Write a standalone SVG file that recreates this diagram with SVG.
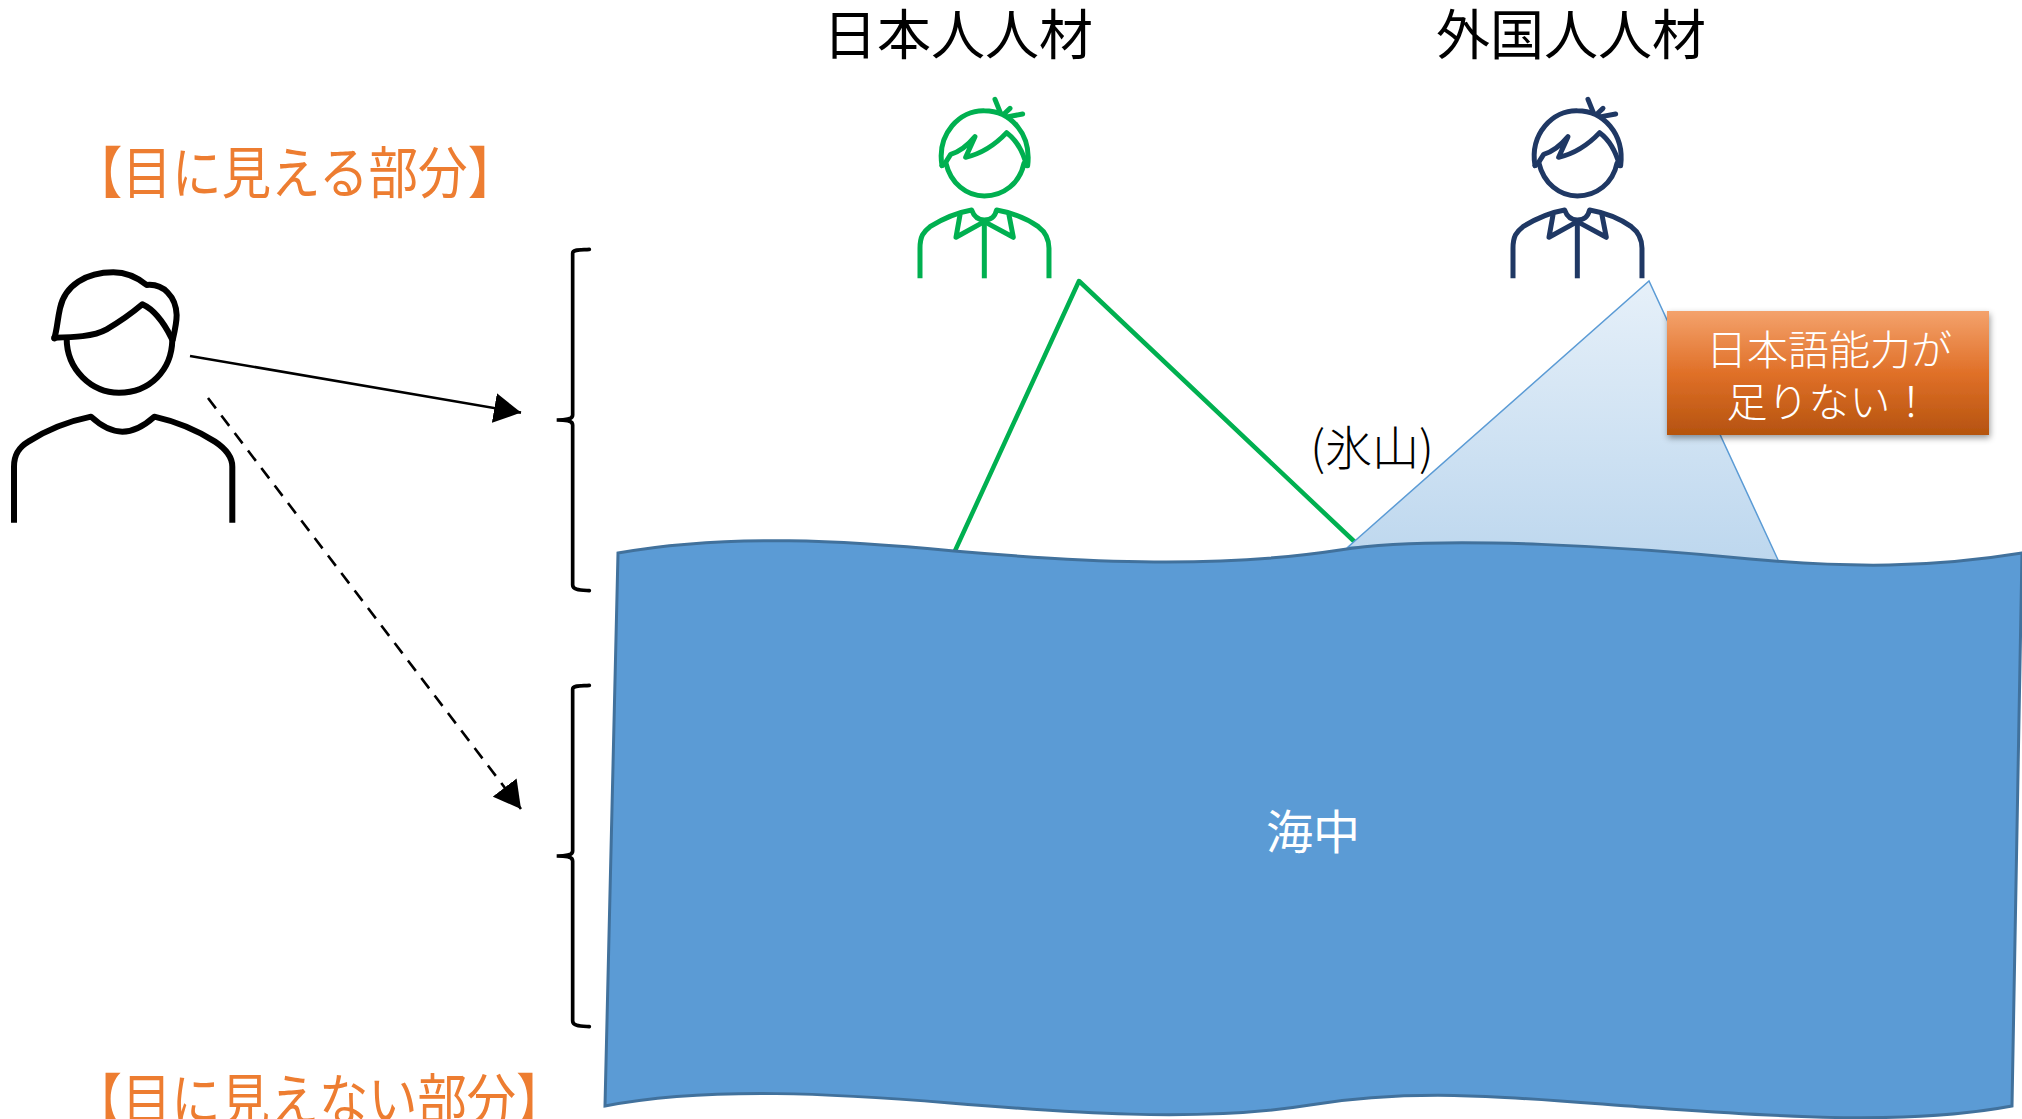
<svg xmlns="http://www.w3.org/2000/svg" width="2022" height="1119" viewBox="0 0 2022 1119">
<style>
text{font-family:"Noto Sans CJK JP","Noto Sans CJK SC",sans-serif;text-anchor:middle}
.title{font-size:54px;fill:#000}
.orange{font-size:56px;fill:#ed7d31;font-weight:400}
.white{fill:#fff;font-weight:400}
.ic{fill:none;stroke-linejoin:round;stroke-linecap:round}
.ln{stroke:#000;stroke-width:2.6;fill:none}
.brace{fill:none;stroke:#000;stroke-width:11;stroke-linecap:round}
</style>
<defs>
<linearGradient id="ice" x1="0" y1="0" x2="0" y2="1"><stop offset="0" stop-color="#e6f0f9"/><stop offset="1" stop-color="#bdd7ee"/></linearGradient>
<linearGradient id="box" x1="0" y1="0" x2="0" y2="1"><stop offset="0" stop-color="#f4a26c"/><stop offset=".5" stop-color="#e07028"/><stop offset="1" stop-color="#b5530f"/></linearGradient>
<filter id="sh" x="-10%" y="-10%" width="120%" height="125%"><feDropShadow dx="1" dy="3" stdDeviation="3" flood-color="#000" flood-opacity=".4"/></filter>
<marker id="ah" markerUnits="userSpaceOnUse" markerWidth="30" markerHeight="30" refX="27" refY="15" orient="auto"><path d="M0 0L27 15L0 30Z" fill="#000"/></marker>
<g id="shirtman" class="ic" stroke-width="15">
<path d="M186 497C170 400 240 330 313 332C390 332 455 400 443 497"/>
<path d="M186 497L195 490L212 463C240 455 260 440 285 410L257 472C310 460 345 435 380 398C410 420 430 460 440 497"/>
<path d="M198 490C212 550 260 588 313 588C370 588 420 550 432 490"/>
<path d="M345 298L362 340M390 325L372 342M428 342L385 350"/>
<path stroke-linecap="butt" d="M120 835V745C120 710 130 695 150 680C190 655 230 638 275 630C282 650 295 660 313 660C335 660 345 650 350 630C395 638 440 655 475 680C495 695 507 715 507 745V835"/>
<path d="M240 645L228 712L313 665L400 712L387 645"/>
<path stroke-linecap="butt" d="M313 665V835"/>
</g>
<path id="br" class="brace" d="M208 58C180 60 158 58 158 70V555C158 565 150 570 110 570C150 570 158 575 158 585V1065C158 1080 180 1080 208 1082"/>
</defs>

<g id="iceberg-jp"><path d="M954 553L1079 281L1358 545" fill="none" stroke="#00b050" stroke-width="4.5" stroke-linejoin="round"/></g>
<g id="iceberg-foreign"><path d="M1348 547L1649 281L1779 562Z" fill="url(#ice)" stroke="#5b9bd5" stroke-width="1.5"/></g>

<g id="sea">
<path d="M618 553C730 533 850 541 954 551C1070 561 1210 570 1340 550C1440 534 1640 548 1750 559C1850 568 1930 568 2022 553L2012 1106C1900 1127 1760 1115 1640 1107C1520 1098 1420 1087 1310 1105C1200 1123 1060 1112 950 1103C840 1094 710 1086 605 1106Z" fill="#5b9bd5" stroke="#41719c" stroke-width="3"/>
<text class="white" x="1313" y="849" font-size="47">海中</text>
</g>

<g id="label-iceberg"><text x="1372" y="465" font-size="47" font-weight="300">(氷山)</text></g>

<g id="callout">
<rect x="1667" y="311" width="322" height="124" fill="url(#box)" filter="url(#sh)"/>
<text class="white" x="1829" y="365" font-size="41" style="font-weight:300">日本語能力が</text>
<text class="white" x="1829" y="417" font-size="41" style="font-weight:300">足りない！</text>
</g>

<g id="title-jp"><text class="title" x="958" y="55">日本人人材</text></g>
<g id="title-foreign"><text class="title" x="1571" y="55">外国人人材</text></g>
<g id="label-visible" transform="translate(295 193) scale(.885 1)"><text class="orange">【目に見える部分】</text></g>
<g id="label-hidden" transform="translate(319 1120) scale(.88 1)"><text class="orange">【目に見えない部分】</text></g>

<g id="person-jp" transform="translate(880 0) scale(.3333)" stroke="#00b050"><use href="#shirtman"/></g>
<g id="person-foreign" transform="translate(1473 0) scale(.3333)" stroke="#1f3864"><use href="#shirtman"/></g>

<g id="viewer" transform="translate(0 240) scale(.3333)" class="ic" stroke="#000" stroke-width="18">
<path d="M163 295C172 265 172 240 180 205C195 135 260 97 340 97C380 97 415 115 440 135C490 130 528 170 530 225C530 250 525 270 518 300"/>
<path d="M163 293C220 292 280 290 320 268C360 245 395 220 427 193C465 210 495 255 515 295"/>
<path d="M200 295C200 390 275 458 357 458C450 458 515 390 517 300"/>
<path stroke-linecap="butt" d="M42 848V680C42 640 60 620 85 605C140 570 200 545 273 530C300 555 330 575 367 575C405 575 435 555 463 530C530 545 590 570 645 605C675 625 697 650 697 680V848"/>
</g>

<g id="brace-top" transform="translate(520 230) scale(.3333)"><use href="#br"/></g>
<g id="brace-bottom" transform="translate(520 666) scale(.3333)"><use href="#br"/></g>

<g id="connectors">
<path class="ln" d="M190 356L521 412.6" marker-end="url(#ah)"/>
<path class="ln" d="M208 398L521 809" stroke-dasharray="13 9" marker-end="url(#ah)"/>
</g>
</svg>
